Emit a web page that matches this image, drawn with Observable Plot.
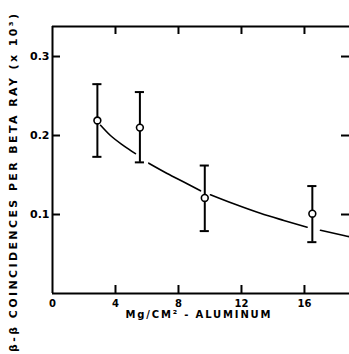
<!DOCTYPE html>
<html>
<head>
<meta charset="utf-8">
<script src="https://cdn.jsdelivr.net/npm/d3@7"></script>
<script src="https://cdn.jsdelivr.net/npm/@observablehq/plot@0.6"></script>
<style>
  html, body { margin: 0; padding: 0; background: #fff; }
  svg { display: block; }
</style>
</head>
<body>
<div id="chart"></div>
<script>
// Tick values
const xTicks = [0, 4, 8, 12, 16];
const yTicks = [0.1, 0.2, 0.3];
const xMax = 18.86;
const yMax = 0.338;

// Measured points with error bars
const ptX = [2.85, 5.55, 9.67, 16.5];
const ptY = [0.219, 0.210, 0.121, 0.101];
const errHi = [0.265, 0.255, 0.162, 0.136];
const errLo = [0.173, 0.166, 0.079, 0.065];

// Fitted curve (drawn in broken segments)
const curveX = [3.05, 3.68, 4.53, 5.27, 6.11, 7.28, 8.55, 9.40, 10.03, 11.51, 13.2, 14.69, 16.17, 17.02, 18.5, 18.86];
const curveY = [0.213, 0.200, 0.187, 0.177, 0.165, 0.152, 0.139, 0.130, 0.125, 0.1135, 0.1015, 0.0925, 0.084, 0.080, 0.0734, 0.0718];
const curveSeg = [0, 0, 0, 0, 1, 1, 1, 1, 2, 2, 2, 2, 2, 3, 3, 3];

const xTitle = "Mg/CM² - ALUMINUM";
const yTitle = "β-β COINCIDENCES PER BETA RAY (x 10³)";

const points = ptX.map((x, i) => ({x, y: ptY[i], lo: errLo[i], hi: errHi[i]}));
const curve = curveX.map((x, i) => ({x, y: curveY[i], s: curveSeg[i]}));

const W = 349, H = 354, mL = 52, mR = 0, mT = 26, mB = 61;
const frameW = W - mL - mR, frameH = H - mT - mB;
const tickLen = 8;
const capHalf = 0.29;

const font = "DejaVu Sans";

const chart = Plot.plot({
  width: W,
  height: H,
  marginLeft: mL,
  marginRight: mR,
  marginTop: mT,
  marginBottom: mB,
  style: {background: "#fff", fontFamily: font},
  x: {domain: [0, xMax], axis: null},
  y: {domain: [0, yMax], axis: null},
  marks: [
    // frame lines
    Plot.ruleX([0], {stroke: "#000", strokeWidth: 2}),
    Plot.ruleY([0], {stroke: "#000", strokeWidth: 2}),
    Plot.ruleY([yMax], {stroke: "#000", strokeWidth: 2}),
    // inward ticks
    Plot.tickX(xTicks.filter(d => d > 0), {x: d => d, insetTop: frameH - tickLen, stroke: "#000", strokeWidth: 2}),
    Plot.tickX(xTicks.filter(d => d > 0), {x: d => d, insetBottom: frameH - tickLen, stroke: "#000", strokeWidth: 2}),
    Plot.tickY(yTicks, {y: d => d, insetRight: frameW - tickLen, stroke: "#000", strokeWidth: 2}),
    Plot.tickY(yTicks, {y: d => d, insetLeft: frameW - tickLen, stroke: "#000", strokeWidth: 2}),
    // tick labels
    Plot.text(xTicks, {x: d => d, frameAnchor: "bottom", dy: 10, lineAnchor: "middle", text: d => String(d), fontSize: 10, fontWeight: "bold", fill: "#000"}),
    Plot.text(yTicks, {y: d => d, frameAnchor: "left", dx: -3, textAnchor: "end", lineAnchor: "middle", text: d => d.toFixed(1), fontSize: 11, fontWeight: "bold", fill: "#000"}),
    // axis titles
    Plot.text([xTitle], {frameAnchor: "bottom", dx: -75.5, dy: 21, textAnchor: "start", lineAnchor: "middle", text: d => d, fontSize: 10, fontWeight: "bold", fill: "#000"}),
    Plot.text([yTitle], {frameAnchor: "left", dx: -39.5, dy: 192, rotate: -90, textAnchor: "start", lineAnchor: "middle", text: d => d, fontSize: 11, fontWeight: "bold", fill: "#000"}),
    // curve
    Plot.line(curve, {x: "x", y: "y", z: "s", curve: "monotone-x", stroke: "#000", strokeWidth: 1.6}),
    // error bars
    Plot.ruleX(points, {x: "x", y1: "lo", y2: "hi", stroke: "#000", strokeWidth: 2}),
    Plot.ruleY(points, {y: "hi", x1: d => d.x - capHalf, x2: d => d.x + capHalf, stroke: "#000", strokeWidth: 2}),
    Plot.ruleY(points, {y: "lo", x1: d => d.x - capHalf, x2: d => d.x + capHalf, stroke: "#000", strokeWidth: 2}),
    // points
    Plot.dot(points, {x: "x", y: "y", r: 3.4, fill: "#fff", stroke: "#000", strokeWidth: 1.6})
  ]
});

d3.select(chart).selectAll("text").each(function() {
  const t = this.textContent;
  if (t === yTitle) d3.select(this).attr("textLength", 338).attr("lengthAdjust", "spacing");
  if (t === xTitle) d3.select(this).attr("textLength", 145).attr("lengthAdjust", "spacing");
});

document.getElementById("chart").appendChild(chart);
</script>
</body>
</html>
